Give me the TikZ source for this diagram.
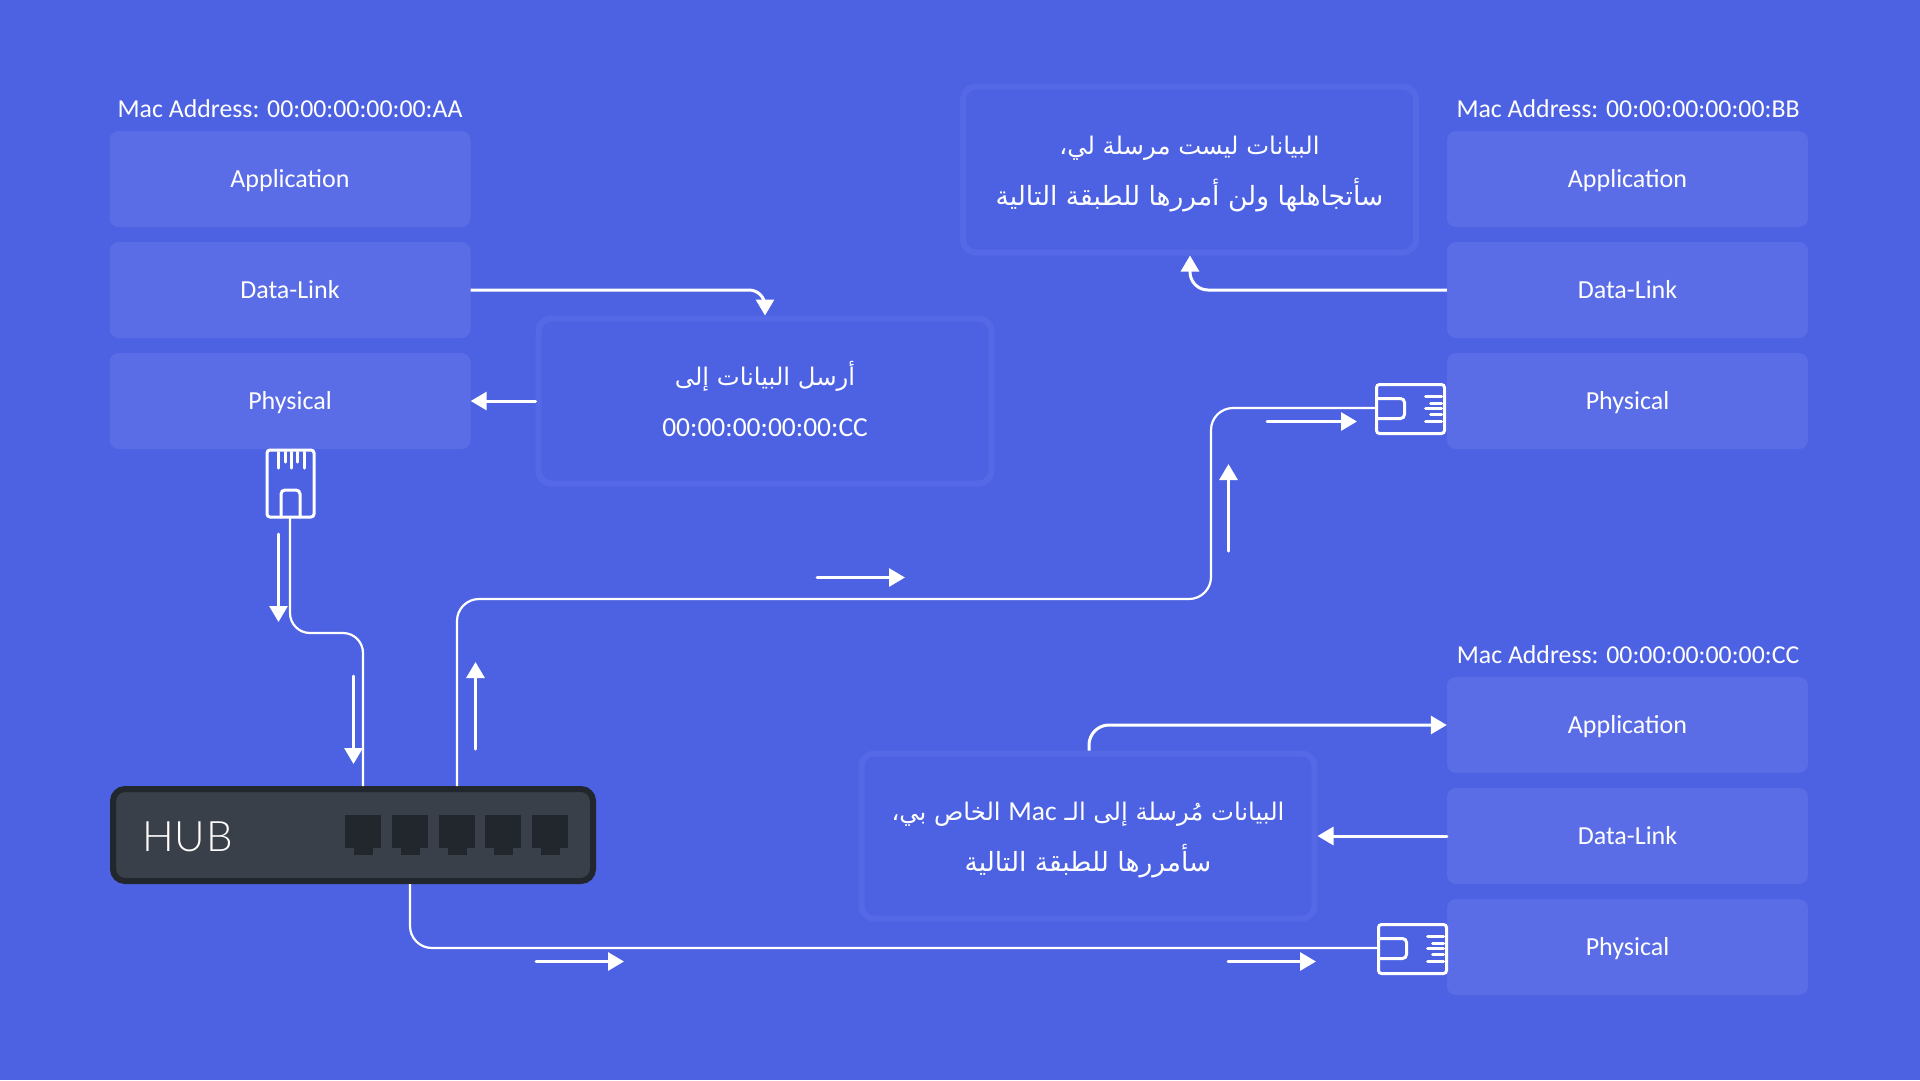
\documentclass[tikz,border=0pt]{standalone}
\usepackage{fontspec}
\usepackage{tikz}
\usepackage{tkz-euclide}
\usetikzlibrary{arrows.meta}
\setmainfont{Carlito}
\newfontfamily\arabicfont[Script=Arabic]{DejaVu Sans}
\newfontfamily\hubfont[LetterSpace=2]{Lato Light}
\TeXXeTstate=1
\definecolor{bgblue}{HTML}{4D62E2}
\definecolor{layerblue}{HTML}{5A6DE6}
\definecolor{noteblue}{HTML}{5569E7}
\definecolor{hubgray}{HTML}{394049}
\definecolor{hubdark}{HTML}{22272D}
\newcommand{\noteshort}{\fontsize{24.3}{51}\selectfont}
\newcommand{\notelatin}{\rmfamily\fontsize{27.5}{51}\selectfont}
\tikzset{
	layerbox/.style={fill=layerblue, rounded corners=9pt, minimum width=361pt, minimum height=96pt, text=white, text height=19pt, text depth=3pt, font=\fontsize{26}{30}\selectfont},
	macnode/.style={text=white, font=\fontsize{25.8}{30}\selectfont},
	notebox/.style={draw=noteblue, line width=6pt, rounded corners=13pt, text=white, align=center, text height=71pt, text depth=0pt, font=\arabicfont\fontsize{26.5}{51}\selectfont},
	socketbox/.style={fill=hubdark, minimum width=36pt, minimum height=33pt, inner sep=0pt},
	sockettab/.style={fill=hubdark, minimum width=19pt, minimum height=8pt, inner sep=0pt},
	wire/.style={draw=white, line width=2.2pt, rounded corners=22pt},
	linkarrow/.style={draw=white, line width=3pt, -{Triangle[length=16pt,width=18pt]}},
	iconline/.style={draw=white, line width=3pt, line cap=round},
	porth/.pic={
		\draw[iconline, rounded corners=3pt] (0,0) rectangle (68,49);
		\draw[iconline, rounded corners=4pt] (0,14) -- (28,14) -- (28,34) -- (0,34);
		\foreach \cy/\cx in {12/49,19/54,24/49,30/54,37/49}
			\draw[iconline] (\cx,\cy) -- (65,\cy);
	},
}
\begin{document}
\begin{tikzpicture}[x=1pt, y=-1pt]
	\useasboundingbox (0,0) rectangle (1920,1080);
	\fill[bgblue] (0,0) rectangle (1920,1080);

	\node[macnode] (macaa) at (290,108.5) {Mac Address: 00:00:00:00:00:AA};
	\node[macnode] (macbb) at (1628,108.5) {Mac Address: 00:00:00:00:00:BB};
	\node[macnode] (maccc) at (1628,654.5) {Mac Address: 00:00:00:00:00:CC};

	\foreach \nm/\cx/\cy in {aa/290/179, bb/1627.5/179, cc/1627.5/725}{
		\node[layerbox] (app\nm) at (\cx,\cy) {Application};
		\node[layerbox] (link\nm) at (\cx,\cy+111) {Data-Link};
		\node[layerbox] (phys\nm) at (\cx,\cy+222) {Physical};
	}

	\node[notebox, minimum width=453pt, minimum height=165pt] (notesend) at (765,401) {{\noteshort\beginR أرسل البيانات إلى\endR}\\{\notelatin 00:00:00:00:00:CC}};
	\node[notebox, minimum width=453pt, minimum height=166pt] (noteskip) at (1189.5,169.5) {{\noteshort\beginR البيانات ليست مرسلة لي،\endR}\\\beginR سأتجاهلها ولن أمررها للطبقة التالية\endR};
	\node[notebox, minimum width=453pt, minimum height=165pt] (notekeep) at (1088,836) {{\noteshort\beginR البيانات مُرسلة إلى الـ \beginL{\notelatin Mac}\endL{} الخاص بي،\endR}\\\beginR سأمررها للطبقة التالية\endR};

	\node[draw=hubdark, fill=hubgray, line width=6pt, rounded corners=12pt, minimum width=480pt, minimum height=92pt] (hub) at (353,835) {};
	\node[text=white, anchor=west, inner sep=0pt, font=\hubfont\fontsize{42}{50}\selectfont] (hublabel) at (142,837) {HUB};
	\foreach \i/\cx in {1/363,2/410,3/457,4/503,5/550}{
		\node[socketbox] (port\i) at (\cx,831) {};
		\node[sockettab] (tab\i) at (\cx,851) {};
	}

	\draw[iconline, rounded corners=3pt] (267,450) rectangle (314,517);
	\draw[iconline, rounded corners=4pt] (281,517) -- (281,490) -- (300,490) -- (300,517);
	\foreach \cx/\cy in {278/468,285/462,291/468,297/462,304/468}
		\draw[iconline] (\cx,452) -- (\cx,\cy);
	\pic at (1376.5,384.5) {porth};
	\pic at (1378.5,924.5) {porth};

	\tkzDefPoint(290,518){rjout};
	\tkzDefPoint(290,633){benda};
	\tkzDefPoint(363,633){bendb};
	\tkzDefPoint(457,599){bendc};
	\tkzDefPoint(1211,599){bendd};
	\tkzDefPoint(1211,408){bende};
	\tkzDefPoint(1376,408){portbb};
	\tkzDefPoint(410,948){bendf};
	\tkzDefPoint(1379,948){portcc};
	\tkzDefPoint(765,290){bendg};
	\tkzDefPoint(1190,290){bendh};
	\tkzDefPoint(1089,725){bendi};

	\draw[wire, rounded corners=20pt] (rjout) -- (benda) -- (bendb) -- (port1 |- hub.north);
	\draw[wire] (port3 |- hub.north) -- (bendc) -- (bendd) -- (bende) -- (portbb);
	\draw[wire] (port2 |- hub.south) -- (bendf) -- (portcc);

	\draw[linkarrow, rounded corners=16pt] (linkaa.east) -- (bendg) -- (notesend.north);
	\tkzDrawSegment[linkarrow](notesend.west,physaa.east);
	\draw[linkarrow, rounded corners=18pt] (linkbb.west) -- (bendh) -- (noteskip.south -| bendh);
	\tkzDrawSegment[linkarrow](linkcc.west,notekeep.east);
	\draw[linkarrow, rounded corners=20pt] (notekeep.north -| bendi) -- (bendi) -- (appcc.west);

	\foreach \nm/\xa/\ya/\xb/\yb in {a/278.5/534/278.5/622, b/353.5/676/353.5/764, c/475.5/749/475.5/662, d/817/577.5/905/577.5, e/1228.5/551/1228.5/464, f/1267/421.5/1357/421.5, g/536/961.5/624/961.5, h/1228/961.5/1316/961.5}{
		\tkzDefPoint(\xa,\ya){s\nm};
		\tkzDefPoint(\xb,\yb){t\nm};
		\tkzDrawSegment[linkarrow](s\nm,t\nm);
	}
\end{tikzpicture}
\end{document}
